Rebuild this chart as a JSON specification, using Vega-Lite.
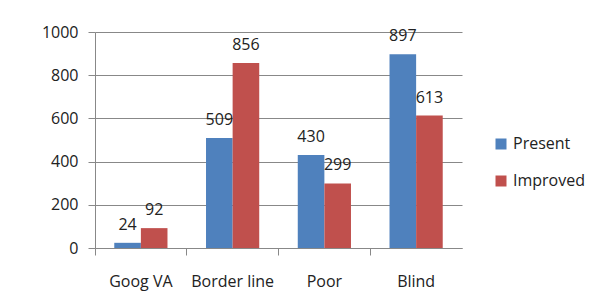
{
  "$schema": "https://vega.github.io/schema/vega-lite/v6.json",
  "autosize": "none",
  "width": 367,
  "height": 216,
  "padding": {"left": 95, "top": 32, "right": 144, "bottom": 59},
  "background": "white",
  "config": {
    "view": {"stroke": null},
    "font": "Open Sans",
    "axis": {"labelFont": "Open Sans", "labelFontSize": 16, "labelColor": "#222", "domainColor": "#888", "tickColor": "#888", "gridColor": "#888", "title": null},
    "legend": {"labelFont": "Open Sans", "labelFontSize": 16, "labelColor": "#222"}
  },
  "data": {
    "values": [
      {"category": "Goog VA", "series": "Present", "value": 24},
      {"category": "Goog VA", "series": "Improved", "value": 92},
      {"category": "Border line", "series": "Present", "value": 509},
      {"category": "Border line", "series": "Improved", "value": 856},
      {"category": "Poor", "series": "Present", "value": 430},
      {"category": "Poor", "series": "Improved", "value": 299},
      {"category": "Blind", "series": "Present", "value": 897},
      {"category": "Blind", "series": "Improved", "value": 613}
    ]
  },
  "encoding": {
    "x": {
      "field": "category", "type": "nominal", "sort": null,
      "scale": {"paddingInner": 0.42, "paddingOuter": 0.21},
      "axis": {"labelAngle": 0, "bandPosition": -0.362, "tickSize": 7, "labelPadding": 18, "grid": false}
    },
    "xOffset": {"field": "series", "type": "nominal", "sort": ["Present", "Improved"], "scale": {"paddingInner": 0, "paddingOuter": 0}},
    "y": {
      "field": "value", "type": "quantitative",
      "scale": {"domain": [0, 1000], "nice": false},
      "axis": {"values": [0, 200, 400, 600, 800, 1000], "format": "d", "tickSize": 7, "labelPadding": 10, "grid": true}
    }
  },
  "layer": [
    {
      "mark": {"type": "bar"},
      "encoding": {
        "color": {
          "field": "series", "type": "nominal", "sort": ["Present", "Improved"],
          "scale": {"domain": ["Present", "Improved"], "range": ["#4F81BD", "#C0504D"]},
          "legend": {"title": null, "orient": "none", "legendX": 398, "legendY": 104, "symbolType": "square", "symbolSize": 121, "symbolStrokeWidth": 0, "rowPadding": 21, "labelOffset": 4}
        }
      }
    },
    {
      "mark": {"type": "text", "baseline": "alphabetic", "dy": -13, "fontSize": 16, "color": "#222"},
      "encoding": {"text": {"field": "value", "type": "quantitative"}}
    }
  ]
}
